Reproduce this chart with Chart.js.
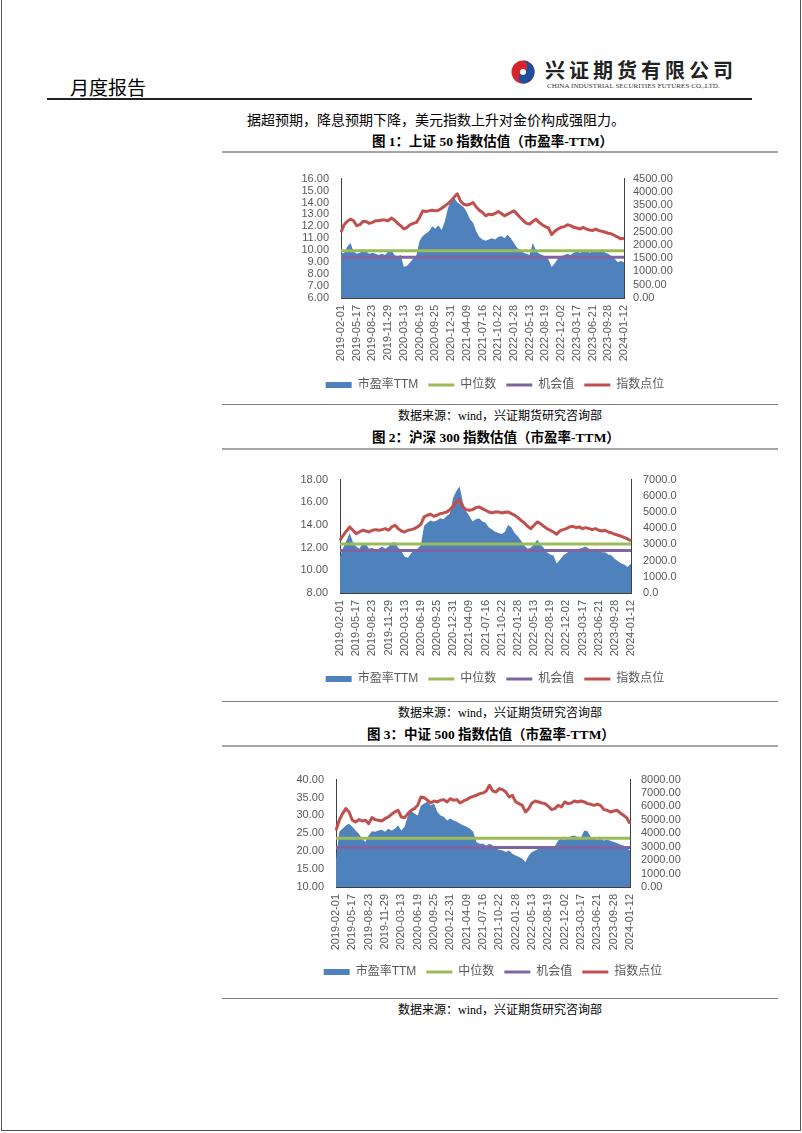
<!DOCTYPE html>
<html><head><meta charset="utf-8">
<script src="https://cdn.jsdelivr.net/npm/chart.js@4.4.1/dist/chart.umd.min.js"></script>
<style>
html,body{margin:0;padding:0;background:#fff;}
#page{position:relative;width:802px;height:1133px;overflow:hidden;font-family:"Noto Sans CJK SC",sans-serif;color:#000;}
.a{position:absolute;white-space:nowrap;}
.title{font-family:"Liberation Serif","Noto Sans CJK SC",serif;font-weight:bold;font-size:13.5px;line-height:16px;}
.src{font-family:"Liberation Serif","Noto Sans CJK SC",serif;font-size:12px;line-height:14px;width:556px;left:222px;text-align:center;}
.gl{position:absolute;left:222px;width:556px;height:2px;background:#a6a6a6;}
.sl{position:absolute;left:222px;width:556px;height:1px;background:#7f7f7f;}
canvas{position:absolute;}
</style></head><body>
<div id="page">
  <div class="a" style="left:1px;top:0;width:798px;height:1130px;border:1px solid #555;border-top:none;"></div>
  <div class="a" style="left:70px;top:77px;font-size:19px;line-height:20px;">月度报告</div>
  <svg class="a" style="left:511px;top:60px" width="24" height="24" viewBox="0 0 24 24">
    <circle cx="12" cy="12" r="11.5" fill="#d7262b"/>
    <path d="M12 0.5 A11.5 11.5 0 0 1 12 23.5 A6 6 0 0 1 12 12 A6 6 0 0 0 12 0.5Z" fill="#1f4e9c"/>
    <circle cx="12" cy="12" r="3" fill="#fff"/>
  </svg>
  <div class="a" style="left:545px;top:58px;font-size:20px;line-height:23px;font-weight:bold;letter-spacing:4px;color:#222;">兴证期货有限公司</div>
  <div class="a" style="left:547px;top:82px;font-family:'Liberation Serif',serif;font-size:7px;line-height:8px;letter-spacing:0.08px;color:#333;">CHINA INDUSTRIAL SECURITIES FUTURES CO.,LTD.</div>
  <div class="a" style="left:47px;top:98px;width:705px;height:2px;background:#222;"></div>
  <div class="a" style="left:247px;top:111px;font-size:14px;line-height:16px;">据超预期，降息预期下降，美元指数上升对金价构成强阻力。</div>

  <div class="a title" style="left:372px;top:134px;">图 1：上证 50 指数估值（市盈率-TTM）</div>
  <div class="gl" style="top:151px;"></div>
  <canvas id="c1" width="410" height="241" style="left:290px;top:160px;"></canvas>
  <div class="sl" style="top:404px;"></div>
  <div class="a src" style="top:409px;">数据来源：wind，兴证期货研究咨询部</div>

  <div class="a title" style="left:372px;top:430px;">图 2：沪深 300 指数估值（市盈率-TTM）</div>
  <div class="gl" style="top:448px;"></div>
  <canvas id="c2" width="410" height="234" style="left:290px;top:461px;"></canvas>
  <div class="sl" style="top:701px;"></div>
  <div class="a src" style="top:706px;">数据来源：wind，兴证期货研究咨询部</div>

  <div class="a title" style="left:367px;top:727px;">图 3：中证 500 指数估值（市盈率-TTM）</div>
  <div class="gl" style="top:745px;"></div>
  <canvas id="c3" width="414" height="227" style="left:286px;top:761px;"></canvas>
  <div class="sl" style="top:998px;"></div>
  <div class="a src" style="top:1003px;">数据来源：wind，兴证期货研究咨询部</div>
</div>
<script>
const tickDates = ['2019-02-01','2019-05-17','2019-08-23','2019-11-29','2020-03-13','2020-06-19','2020-09-25','2020-12-31','2021-04-09','2021-07-16','2021-10-22','2022-01-28','2022-05-13','2022-08-19','2022-12-02','2023-03-17','2023-06-21','2023-09-28','2024-01-12'];
const pointsPerTick = 5;

// 上证50
const sz50PE = [9.7,9.8,10.3,10.6,9.9, 9.7,9.8,10.1,9.9,9.7, 9.8,9.7,9.6,9.7,9.6, 9.9,10.0,9.6,9.5,9.6, 8.6,8.7,9.0,9.3,9.6, 10.8,11.2,11.4,11.6,12.0, 11.8,12.1,11.7,12.4,13.5, 14.3,14.4,14.0,13.8,13.6, 13.2,12.6,12.3,11.6,11.1, 10.9,10.8,10.9,11.0,10.9, 11.1,11.2,11.0,11.3,11.0, 10.6,10.2,10.0,9.8,9.7, 9.6,10.6,10.0,9.7,9.6, 9.5,9.2,8.6,8.9,9.3, 9.5,9.6,9.7,9.6,9.8, 9.9,9.8,9.9,10.0,9.8, 9.9,10.0,9.9,10.1,9.8, 9.7,9.5,9.3,9.0,9.1, 9.0];
const sz50Index = [2478,2763,2887,2974,2912, 2726,2763,2887,2887,2813, 2850,2912,2912,2937,2937, 2912,3011,2937,2813,2726, 2602,2664,2763,2813,2850, 3036,3284,3259,3284,3308, 3284,3308,3383,3470,3556, 3655,3804,3928,3655,3532, 3507,3532,3594,3432,3308, 3222,3098,3160,3135,3185, 3259,3185,3098,3160,3222, 3284,3160,3036,2912,2813, 2788,2887,2974,2850,2763, 2689,2639,2392,2515,2602, 2664,2689,2763,2726,2664, 2639,2602,2664,2602,2565, 2540,2602,2540,2515,2478, 2441,2416,2354,2292,2230, 2255];
const sz50Median = 9.95;
const sz50Chance = 9.42;

// 沪深300
const hs300PE = [11.2,12.0,12.6,13.3,12.5, 12.1,11.9,12.4,12.3,11.9, 12.0,11.8,11.9,12.1,11.9, 12.1,12.4,12.5,12.0,11.7, 11.2,11.1,11.5,11.8,11.9, 12.2,13.9,14.2,14.4,14.3, 14.4,14.6,14.5,14.8,15.0, 16.4,17.0,17.4,16.0,15.2, 14.8,14.3,14.5,14.6,14.3, 14.2,13.8,13.6,13.4,13.3, 13.2,13.4,14.0,13.8,13.3, 13.0,12.6,12.2,11.9,12.0, 12.3,12.7,12.3,12.0,11.6, 11.4,11.3,10.6,10.9,11.3, 11.5,11.7,11.9,11.8,11.9, 12.0,12.1,11.9,11.8,11.9, 11.7,11.6,11.6,11.4,11.3, 11.0,10.8,10.6,10.5,10.3, 10.6];
const hs300Index = [3253,3562,3830,4077,3871, 3665,3768,3871,3830,3768, 3871,3912,3871,3912,3974, 3871,4077,4180,3974,3830, 3768,3871,3912,3974,4077, 4242,4694,4797,4859,4735, 4797,4900,4942,5003,5148, 5353,5621,5765,5312,5148, 5106,5148,5271,5312,5209, 5106,5003,4942,5003,5003, 4942,4983,5003,4900,4797, 4653,4488,4324,4118,3974, 4180,4386,4283,4118,3974, 3871,3768,3624,3830,3912, 3974,4077,4118,4036,4077, 3974,4036,3974,3912,3974, 3871,3830,3871,3768,3706, 3624,3562,3500,3418,3336, 3212];
const hs300Median = 12.32;
const hs300Chance = 11.74;

// 中证500
const zz500PE = [17.5,25.4,26.3,27.2,27.7, 26.8,25.8,24.9,23.5,22.6, 24.4,25.6,25.4,25.8,26.0, 25.4,26.3,25.8,26.3,27.2, 25.8,26.8,30.0,31.4,30.5, 30.0,32.8,33.3,33.8,32.8, 33.3,31.0,30.0,29.6,28.6, 29.1,28.6,28.2,27.7,27.2, 26.8,26.3,25.4,22.6,22.1, 22.1,21.6,22.1,21.6,20.7, 20.4,20.2,19.8,20.2,19.3, 18.8,18.4,17.9,17.0,18.8, 19.8,20.2,20.7,21.0,20.7, 21.4,21.2,21.4,23.0,23.5, 23.2,23.8,24.2,24.4,24.0, 23.8,25.8,25.6,24.0,23.5, 23.2,23.5,23.0,23.2,22.9, 22.6,22.3,21.9,21.6,21.0, 20.2];
const zz500Index = [4220,4970,5465,5840,5590, 4970,4845,5020,4920,4970, 4720,5165,5020,4970,4920, 5090,5215,5415,5590,5715, 5215,5165,5465,5715,5840, 6085,6705,6655,6460,6260, 6410,6335,6460,6510,6335, 6580,6460,6510,6260,6410, 6510,6655,6755,6830,6955, 7005,7155,7575,7155,7080, 7330,7255,7080,6705,6830, 6335,6210,6085,5590,5840, 6260,6410,6335,6260,6210, 6010,5765,5840,6085,5960, 6335,6210,6260,6410,6335, 6410,6335,6210,6160,6085, 6160,6085,5765,5715,5590, 5665,5715,5515,5340,5165, 4720];
const zz500Median = 23.6;
const zz500Chance = 21.0;

const TICK_FONT = {family:"'Liberation Sans','Noto Sans CJK SC'", size:11};
const TICK_COLOR = '#595959';
const AXIS_COLOR = '#404040';

function buildLabels(){
  const labels = [];
  tickDates.forEach((d,k)=>{
    labels.push(d);
    if (k < tickDates.length-1) for (let j=1;j<pointsPerTick;j++) labels.push('');
  });
  return labels;
}

function makeChart(id, o){
  const labels = buildLabels();
  const n = labels.length;
  new Chart(document.getElementById(id), {
    type:'line',
    data:{labels, datasets:[
      {label:'指数点位', data:o.index, yAxisID:'y1', borderColor:'#C0504D', backgroundColor:'#C0504D', borderWidth:3, pointRadius:0, fill:false, tension:0, borderJoinStyle:'round'},
      {label:'机会值', data:Array(n).fill(o.chance), yAxisID:'y', borderColor:'#8064A2', backgroundColor:'#8064A2', borderWidth:3, pointRadius:0, fill:false},
      {label:'中位数', data:Array(n).fill(o.median), yAxisID:'y', borderColor:'#9BBB59', backgroundColor:'#9BBB59', borderWidth:3, pointRadius:0, fill:false},
      {label:'市盈率TTM', data:o.pe, yAxisID:'y', borderColor:'#4F81BD', backgroundColor:'#4F81BD', borderWidth:0, pointRadius:0, fill:'start', tension:0}
    ]},
    options:{
      animation:false, responsive:false, devicePixelRatio:1,
      layout:{padding:{top:8,left:0,right:0,bottom:0}},
      plugins:{
        tooltip:{enabled:false},
        legend:{position:'bottom', reverse:true,
          labels:{usePointStyle:true, pointStyleWidth:26, boxWidth:26, boxHeight:6, padding:10, color:'#595959',
            font:{family:"'Liberation Sans','Noto Sans CJK SC'", size:12},
            generateLabels(chart){
              const items = Chart.defaults.plugins.legend.labels.generateLabels(chart);
              items.forEach(it=>{
                const ds = chart.data.datasets[it.datasetIndex];
                if (ds.fill==='start'){ it.pointStyle='rect'; it.fillStyle=ds.backgroundColor; it.strokeStyle=ds.backgroundColor; it.lineWidth=0; }
                else { it.pointStyle='line'; it.strokeStyle=ds.borderColor; it.lineWidth=3; }
              });
              return items;
            }}}
      },
      scales:{
        x:{type:'category', offset:false,
          grid:{display:false, drawTicks:false},
          border:{display:true, color:AXIS_COLOR, width:1},
          ticks:{autoSkip:false, maxRotation:90, minRotation:90, padding:7, color:TICK_COLOR, font:TICK_FONT},
          afterFit(s){ s.height = o.xh; }},
        y:{position:'left', min:o.yMin, max:o.yMax,
          grid:{display:false, drawTicks:false},
          border:{display:true, color:AXIS_COLOR, width:1},
          ticks:{autoSkip:false, stepSize:o.yStep, padding:o.lp, color:TICK_COLOR, font:TICK_FONT, callback:v=>v.toFixed(2)},
          afterFit(s){ s.width = o.lw; }},
        y1:{position:'right', min:0, max:o.rMax,
          grid:{display:false, drawTicks:false},
          border:{display:true, color:AXIS_COLOR, width:1},
          ticks:{autoSkip:false, stepSize:o.rStep, padding:o.rp, color:TICK_COLOR, font:TICK_FONT, callback:v=>v.toFixed(o.rDec)},
          afterFit(s){ s.width = o.rw; }}
      }
    }
  });
}

makeChart('c1', {pe:sz50PE, index:sz50Index, median:sz50Median, chance:sz50Chance,
  yMin:6, yMax:16, yStep:1, rMax:4500, rStep:500, rDec:2, lw:51, rw:76, lp:12, rp:9, xh:71});
makeChart('c2', {pe:hs300PE, index:hs300Index, median:hs300Median, chance:hs300Chance,
  yMin:8, yMax:18, yStep:2, rMax:7000, rStep:1000, rDec:1, lw:50, rw:69, lp:12, rp:12, xh:70});
makeChart('c3', {pe:zz500PE, index:zz500Index, median:zz500Median, chance:zz500Chance,
  yMin:10, yMax:40, yStep:5, rMax:8000, rStep:1000, rDec:2, lw:50, rw:70, lp:12, rp:11, xh:69});
</script>
</body></html>
